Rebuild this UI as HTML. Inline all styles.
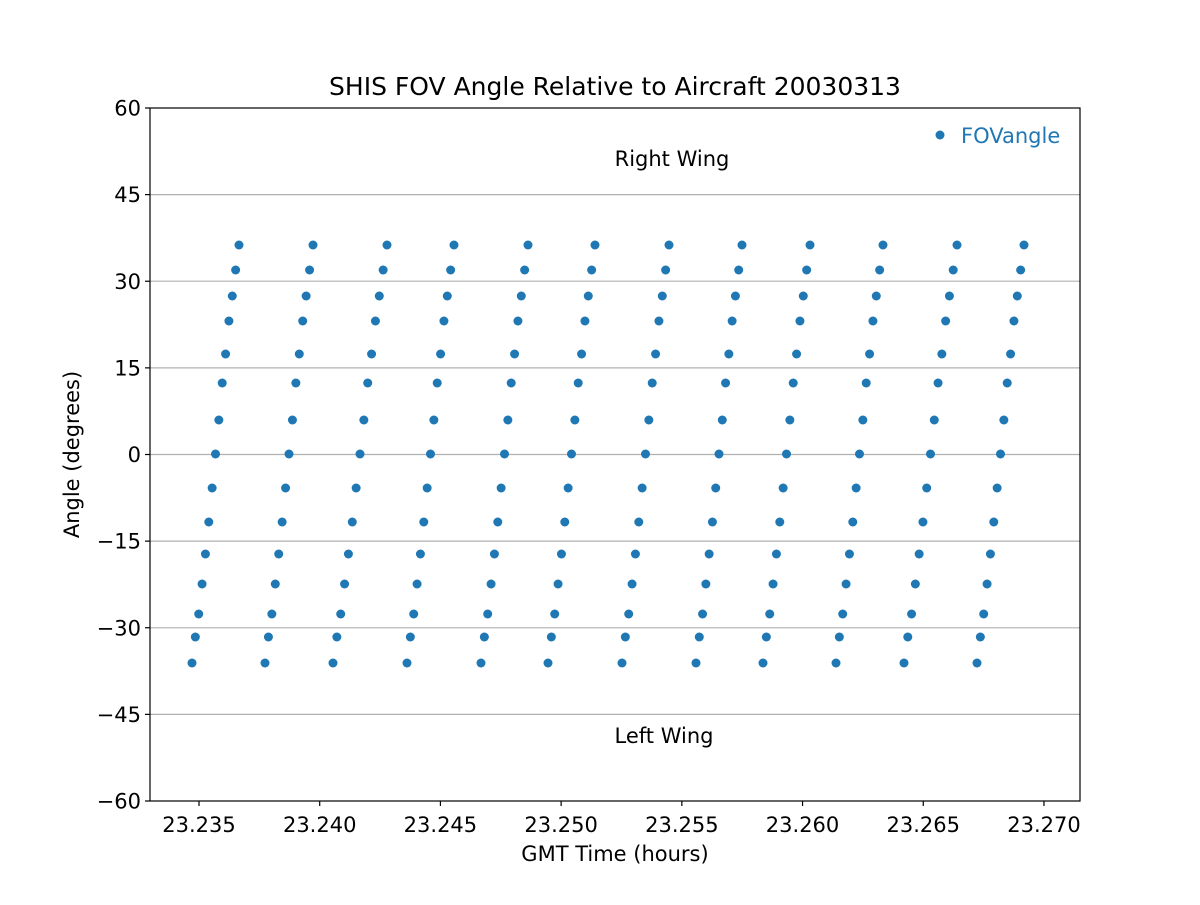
<!DOCTYPE html>
<html><head><meta charset="utf-8"><style>
html,body{margin:0;padding:0;background:#fff;}
svg text{font-family:"DejaVu Sans","Liberation Sans",sans-serif;}
</style></head><body>
<svg id="s" width="1200" height="900" xmlns="http://www.w3.org/2000/svg">
<rect width="1200" height="900" fill="#fff"/>
<g stroke="#b0b0b0" stroke-width="1.2">
<line x1="150" x2="1080" y1="194.6" y2="194.6"/>
<line x1="150" x2="1080" y1="281.2" y2="281.2"/>
<line x1="150" x2="1080" y1="367.9" y2="367.9"/>
<line x1="150" x2="1080" y1="454.5" y2="454.5"/>
<line x1="150" x2="1080" y1="541.1" y2="541.1"/>
<line x1="150" x2="1080" y1="627.8" y2="627.8"/>
<line x1="150" x2="1080" y1="714.4" y2="714.4"/>
</g>
<g id="pts" fill="#1f77b4"></g>
<rect x="150" y="108" width="930" height="693" fill="none" stroke="#000" stroke-width="1.2"/>
<g stroke="#000" stroke-width="1.2" id="ticks"></g>
<g font-size="21" fill="#000" text-anchor="end" id="yl"></g>
<g font-size="21" fill="#000" text-anchor="middle" id="xl"></g>
<text x="615" y="95" font-size="25" text-anchor="middle">SHIS FOV Angle Relative to Aircraft 20030313</text>
<text x="615" y="861" font-size="21" text-anchor="middle">GMT Time (hours)</text>
<text transform="translate(79,454.5) rotate(-90)" font-size="21" text-anchor="middle">Angle (degrees)</text>
<text x="672" y="166" font-size="21" text-anchor="middle">Right Wing</text>
<text x="664" y="743" font-size="21" text-anchor="middle">Left Wing</text>
<circle cx="940" cy="135" r="4.5" fill="#1f77b4"/>
<text x="961" y="143" font-size="21" fill="#1f77b4">FOVangle</text>
</svg>
<script>
var NS="http://www.w3.org/2000/svg";
function el(p,t,a,txt){var e=document.createElementNS(NS,t);for(var k in a)e.setAttribute(k,a[k]);if(txt!=null)e.textContent=txt;p.appendChild(e);}
var ys=[663,637,614,584,554,522,488,454,420,383,354,321,296,270,245];
var cols=[[192,239],[265,313],[333,387],[407,454],[481,528],[548,595],[622,669],[696,742],[763,810],[836,883],[904,957],[977,1024]];
var g=document.getElementById('pts');
cols.forEach(function(c){for(var i=0;i<15;i++){el(g,'circle',{cx:c[0]+(c[1]-c[0])*i/14,cy:ys[i],r:4.5});}});
var tk=document.getElementById('ticks'),yl=document.getElementById('yl'),xl=document.getElementById('xl');
for(var v=-60;v<=60;v+=15){var y=454.5-v*5.775;el(tk,'line',{x1:145,x2:150,y1:y,y2:y});el(yl,'text',{x:141,y:y+7.5},(v<0?'\u2212':'')+Math.abs(v));}
for(var j=0;j<8;j++){var x=199+j*120.71;el(tk,'line',{x1:x,x2:x,y1:801,y2:806});el(xl,'text',{x:x,y:832},(23.235+j*0.005).toFixed(3));}
</script>
</body></html>
